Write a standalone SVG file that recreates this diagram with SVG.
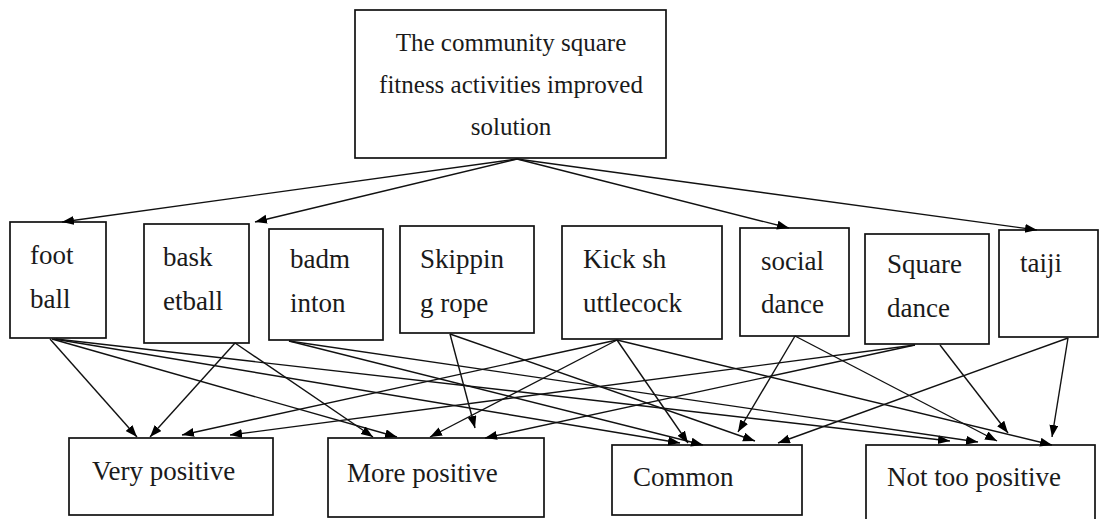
<svg xmlns="http://www.w3.org/2000/svg" width="1100" height="519" viewBox="0 0 1100 519">
<style>
rect{fill:#fff;stroke:#111;stroke-width:1.7}
text{font-family:"Liberation Serif","Times New Roman",serif;font-size:27px;fill:#1a1a1a}
#top text{font-size:25px}
.c line{stroke:#111;stroke-width:1.4;marker-end:url(#a)}
</style>
<defs><marker id="a" markerUnits="userSpaceOnUse" markerWidth="14" markerHeight="11" refX="12" refY="4.5" orient="auto"><path d="M0,0 L12,4.5 L0,9 z" fill="#000"/></marker></defs>
<rect width="1100" height="519" style="stroke:none"/>
<g id="top"><rect x="355" y="10" width="311" height="148"/>
<text x="511" y="51" text-anchor="middle">The community square</text>
<text x="511" y="93" text-anchor="middle">fitness activities improved</text>
<text x="511" y="135" text-anchor="middle">solution</text></g>
<g id="football"><rect x="10" y="222" width="96" height="116"/><text x="30" y="264">foot</text><text x="30" y="308">ball</text></g>
<g id="basketball"><rect x="144" y="224" width="105" height="119"/><text x="163" y="266">bask</text><text x="163" y="310">etball</text></g>
<g id="badminton"><rect x="269" y="229" width="114" height="111"/><text x="290" y="268">badm</text><text x="290" y="312">inton</text></g>
<g id="skipping"><rect x="400" y="226" width="134" height="107"/><text x="420" y="268">Skippin</text><text x="420" y="312">g rope</text></g>
<g id="kick"><rect x="562" y="226" width="160" height="113"/><text x="583" y="268">Kick sh</text><text x="583" y="312">uttlecock</text></g>
<g id="social"><rect x="740" y="228" width="109" height="108"/><text x="761" y="270">social</text><text x="761" y="313">dance</text></g>
<g id="square"><rect x="865" y="234" width="124" height="110"/><text x="887" y="273">Square</text><text x="887" y="317">dance</text></g>
<g id="taiji"><rect x="999" y="230" width="99" height="107"/><text x="1020" y="272">taiji</text></g>
<g id="very"><rect x="69" y="438" width="204" height="77"/><text x="92" y="480">Very positive</text></g>
<g id="more"><rect x="328" y="438" width="216" height="79"/><text x="347" y="482">More positive</text></g>
<g id="common"><rect x="612" y="445" width="190" height="70"/><text x="633" y="486">Common</text></g>
<g id="nottoo"><rect x="866" y="445" width="229" height="80"/><text x="887" y="486">Not too positive</text></g>
<g class="c" id="connectors">
<line x1="517" y1="159" x2="62" y2="222"/>
<line x1="517" y1="159" x2="255" y2="222"/>
<line x1="517" y1="159" x2="789" y2="228"/>
<line x1="517" y1="159" x2="1037" y2="230"/>
<line x1="50" y1="339" x2="137" y2="437"/>
<line x1="52" y1="339" x2="397" y2="437"/>
<line x1="54" y1="339" x2="680" y2="443"/>
<line x1="56" y1="339" x2="950" y2="441"/>
<line x1="235" y1="343" x2="150" y2="437"/>
<line x1="235" y1="343" x2="373" y2="437"/>
<line x1="289" y1="341" x2="703" y2="445"/>
<line x1="289" y1="341" x2="978" y2="442"/>
<line x1="450" y1="334" x2="475" y2="428"/>
<line x1="450" y1="334" x2="755" y2="441"/>
<line x1="617" y1="340" x2="182" y2="435"/>
<line x1="617" y1="340" x2="430" y2="437"/>
<line x1="617" y1="340" x2="688" y2="443"/>
<line x1="617" y1="340" x2="1052" y2="445"/>
<line x1="795" y1="336" x2="738" y2="432"/>
<line x1="795" y1="336" x2="997" y2="441"/>
<line x1="915" y1="345" x2="230" y2="435"/>
<line x1="915" y1="345" x2="485" y2="438"/>
<line x1="940" y1="345" x2="1008" y2="433"/>
<line x1="1068" y1="338" x2="778" y2="443"/>
<line x1="1068" y1="338" x2="1052" y2="437"/>
</g>
</svg>
